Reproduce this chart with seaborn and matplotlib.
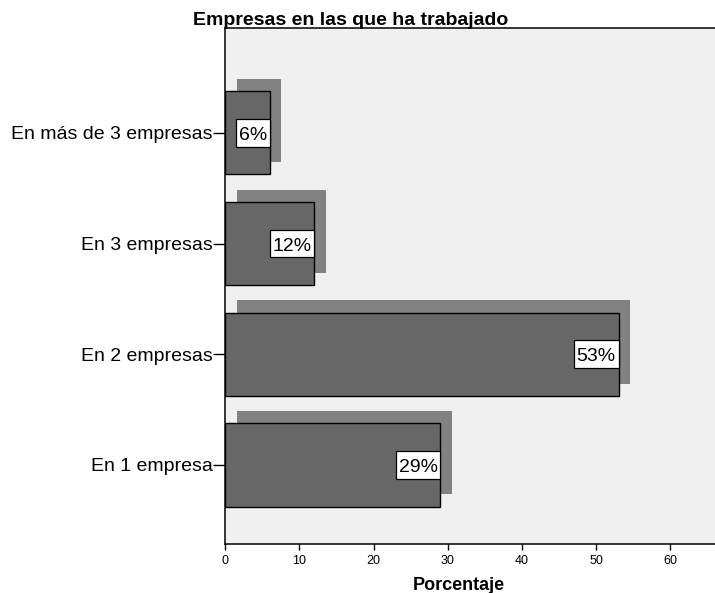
import matplotlib
matplotlib.use("Agg")
import matplotlib.pyplot as plt
from matplotlib.patches import Rectangle
from matplotlib.transforms import ScaledTranslation
import seaborn as sns
import pandas as pd

# Data
categorias = ["En más de 3 empresas", "En 3 empresas", "En 2 empresas", "En 1 empresa"]
porcentajes = [6, 12, 53, 29]
etiquetas = ["6%", "12%", "53%", "29%"]
ticks_x = [0, 10, 20, 30, 40, 50, 60]

sns.set_style("white")
plt.rcParams["font.family"] = ["Liberation Sans", "DejaVu Sans"]
plt.rcParams["text.color"] = "black"
plt.rcParams["axes.labelcolor"] = "black"

df = pd.DataFrame({"categoria": categorias, "porcentaje": porcentajes})

fig = plt.figure(figsize=(7.15, 5.93), dpi=100)
ax = fig.add_axes([225.3 / 715, 1 - 544 / 593, 1 - 225.3 / 715, (544 - 27.5) / 593])
ax.set_facecolor("#f0f0f0")

bar_h = 0.752
# drop shadow behind each bar
for i, v in enumerate(porcentajes):
    ax.barh(i - 0.111, v, left=1.55, height=bar_h, color="#828282",
            edgecolor="none", zorder=1)

sns.barplot(data=df, x="porcentaje", y="categoria", orient="h", ax=ax,
            color="#676767", saturation=1, width=bar_h,
            edgecolor="black", linewidth=1.0, zorder=2)

ax.set_xlim(0, 66)
ax.set_ylim(3.714, -0.951)
ax.set_xticks(ticks_x)
ax.set_xticklabels([str(t) for t in ticks_x])

ax.tick_params(axis="y", length=8.8, width=1.0, pad=0.5, labelsize=14,
               colors="black", left=True)
ax.tick_params(axis="x", length=4.3, width=1.0, pad=3.5, labelsize=9,
               colors="black", bottom=True)

for s in ["left", "bottom", "top"]:
    ax.spines[s].set_visible(True)
    ax.spines[s].set_color("black")
    ax.spines[s].set_linewidth(1.1)
ax.spines["right"].set_visible(False)

ax.set_ylabel("")
ax.set_xlabel("Porcentaje", fontsize=13, fontweight="bold", color="black")
ax.xaxis.set_label_coords(0.4766, -0.064)

fig.text(350.5 / 715, 1 - 25 / 593, "Empresas en las que ha trabajado",
         ha="center", va="baseline", fontsize=14, fontweight="bold", color="black")

# value labels: white boxes flush with the bar end
pad_px = 2.7
box_h_px = 27.7
textos = []
for i, (v, t) in enumerate(zip(porcentajes, etiquetas)):
    off = ScaledTranslation(-pad_px / 100, -7.0 / 100, fig.dpi_scale_trans)
    txt = ax.text(v, i, t, ha="right", va="baseline", fontsize=14,
                  color="black", zorder=4, transform=ax.transData + off)
    textos.append(txt)

fig.canvas.draw()
renderer = fig.canvas.get_renderer()
inv = ax.transData.inverted()
for i, (v, txt) in enumerate(zip(porcentajes, textos)):
    bb = txt.get_window_extent(renderer)
    xc, yc = ax.transData.transform((v, i))
    x0 = bb.x0 - pad_px
    (dx0, dy0) = inv.transform((x0, yc - box_h_px / 2))
    (dx1, dy1) = inv.transform((xc, yc + box_h_px / 2))
    ax.add_patch(Rectangle((dx0, dy0), dx1 - dx0, dy1 - dy0, facecolor="white",
                           edgecolor="black", linewidth=0.9, zorder=3))

fig.savefig("out.png", dpi=100)
